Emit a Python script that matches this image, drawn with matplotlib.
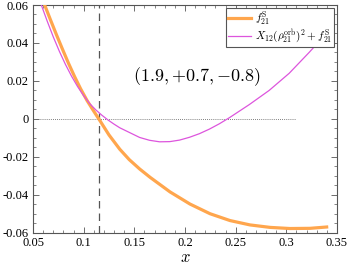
import numpy as np
import matplotlib.pyplot as plt
from matplotlib.ticker import MultipleLocator

plt.rcParams['font.family'] = ['Liberation Serif', 'DejaVu Serif']
plt.rcParams['mathtext.fontset'] = 'cm'

orange = '#FFA64D'
magenta = '#DD55DD'

# f21^S curve
x_fs = [0.0615, 0.067, 0.073, 0.079, 0.085, 0.091, 0.097, 0.1035, 0.110, 0.1155,
        0.125, 0.1356, 0.145, 0.1552, 0.1655, 0.1852, 0.2049, 0.2247, 0.2444, 0.2641,
        0.2839, 0.3036, 0.3234, 0.3398]
y_fs = [0.060, 0.0525, 0.0445, 0.0368, 0.0293, 0.0223, 0.0158, 0.0095, 0.0040, -0.0005,
        -0.0085, -0.0160, -0.0215, -0.0264, -0.0308, -0.0385, -0.0449, -0.0500, -0.0536, -0.0559,
        -0.0572, -0.0578, -0.0577, -0.0570]

# X12 (rho21^orb)^2 + f21^S curve
x_tot = [0.0582, 0.064, 0.070, 0.076, 0.082, 0.088, 0.094, 0.100, 0.106, 0.112,
         0.118, 0.124, 0.130, 0.1356, 0.1552, 0.165, 0.1749, 0.185, 0.1946, 0.2045,
         0.2143, 0.2241, 0.2339, 0.2438, 0.2634, 0.2831, 0.3028, 0.3225, 0.3307, 0.337]
y_tot = [0.060, 0.0515, 0.0432, 0.0356, 0.0287, 0.0225, 0.0170, 0.0122, 0.0080, 0.0047,
         0.0019, -0.0006, -0.0028, -0.0047, -0.0098, -0.0113, -0.0121, -0.0120, -0.0112, -0.0097,
         -0.0078, -0.0054, -0.0026, 0.0006, 0.0075, 0.0150, 0.0240, 0.0350, 0.0398, 0.0436]

x_vline = 0.1148
zero_line = [0.057, 0.309]
label_text = r'$(1.9,{+}0.7,{-}0.8)$'

fig, ax = plt.subplots(figsize=(3.49, 2.72), dpi=100)
fig.subplots_adjust(left=0.0946, right=0.9656, top=0.9816, bottom=0.1445)

ax.plot(x_fs, y_fs, color=orange, lw=2.3, label=r'$f_{21}^{\mathrm{S}}$', zorder=3)
ax.plot(x_tot, y_tot, color=magenta, lw=0.9,
        label=r'$X_{12}(\rho_{21}^{\mathrm{orb}})^2+f_{21}^{\mathrm{S}}$', zorder=4)
ax.axvline(x_vline, color='#555555', ls=(0, (6, 4)), lw=0.9)
ax.plot(zero_line, [0, 0], color='#555555', ls=(0, (1, 1.5)), lw=0.6)

ax.text(0.212, 0.022, label_text, fontsize=13, ha='center', va='center')

ax.set_xlim(0.05, 0.35)
ax.set_ylim(-0.06, 0.06)
ax.xaxis.set_minor_locator(MultipleLocator(0.01))
ax.yaxis.set_minor_locator(MultipleLocator(0.005))
ax.set_xticks(np.arange(0.05, 0.351, 0.05))
ax.set_xticklabels(['0.05', '0.1', '0.15', '0.2', '0.25', '0.3', '0.35'])
ax.set_yticks(np.arange(-0.06, 0.061, 0.02))
ax.set_yticklabels(['-0.06', '-0.04', '-0.02', '0', '0.02', '0.04', '0.06'])
ax.tick_params(which='both', direction='in', top=True, right=True, color='#555555',
               labelsize=9, pad=3)
ax.tick_params(which='major', length=4, width=0.6)
ax.tick_params(which='minor', length=2, width=0.5)
for s in ax.spines.values():
    s.set_color('#555555')
    s.set_linewidth(0.8)

ax.set_xlabel(r'$x$', fontsize=12, labelpad=1)

leg = ax.legend(loc='upper right', fontsize=8, fancybox=False, framealpha=1,
                edgecolor='#555555', borderaxespad=0.3, handlelength=2.1,
                handletextpad=0.3, borderpad=0.15, labelspacing=0.05)
leg.get_frame().set_linewidth(0.8)
leg.set_zorder(10)

plt.savefig('out.png', dpi=100)
